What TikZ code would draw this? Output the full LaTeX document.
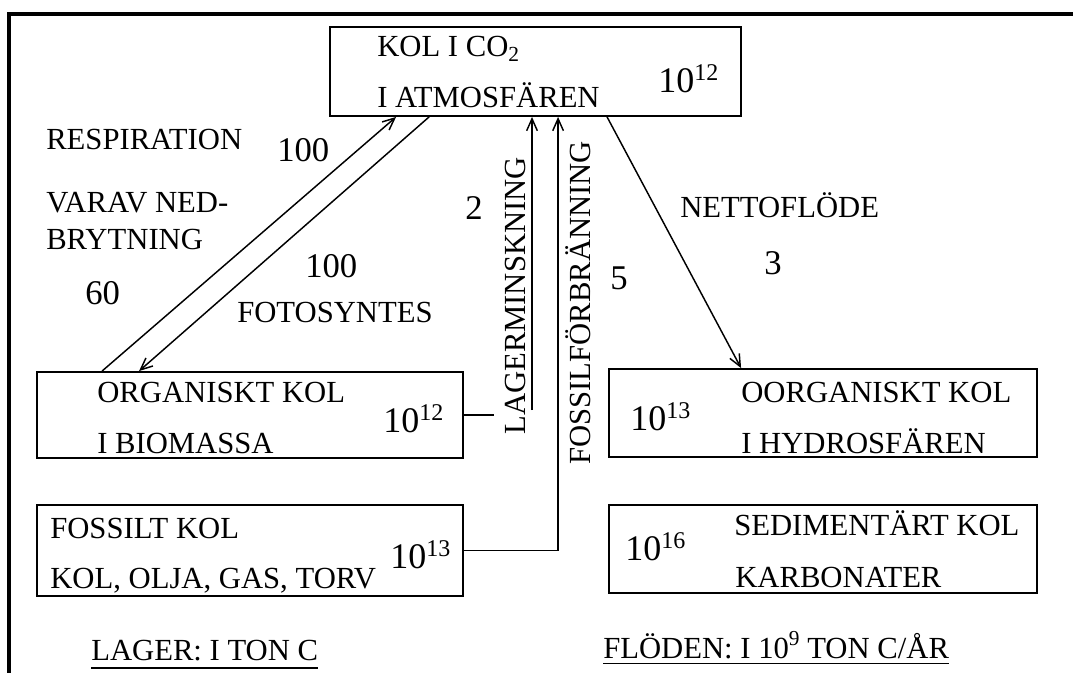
\documentclass[tikz,border=0pt]{standalone}
\usepackage{fontspec}
\setmainfont{Liberation Serif}
\usetikzlibrary{arrows.meta,calc,fit}
\newcommand\pten[1]{{\fontsize{27}{30}\selectfont 10}\raisebox{9pt}{\fontsize{18}{18}\selectfont #1}}

\begin{document}
\begin{tikzpicture}[x=0.75pt, y=-0.75pt, >={Straight Barb[length=9pt,width=8pt]},
    every node/.style={font=\fontsize{23}{27}\selectfont, inner sep=0pt},
    num/.style={font=\fontsize{26}{30}\selectfont},
    box/.style={draw, line width=1.4pt, inner sep=0pt},
    flow/.style={->, line width=1.1pt}]
  \useasboundingbox (0,0) rectangle (1073,673);
  \draw[line width=3pt] (9,673) -- (9,14) -- (1073,14);
  % stores
  \foreach \n/\xa/\ya/\xb/\yb in {atm/330/27/741/116, org/37/372/463/458, fos/37/505/463/596,
      hyd/609/369/1037/457, sed/609/505/1037/593} {
    \node[box, fit={(\xa,\ya) (\xb,\yb)}] (\n) {};
  }
  \node[anchor=base west] (atmA) at (377,57) {KOL I CO\textsubscript{2}};
  \node[anchor=base west] (atmB) at (377,108) {I ATMOSFÄREN};
  \node[anchor=base west] (atmN) at (658,93) {\pten{12}};
  \node[anchor=base west] (orgA) at (97,402) {ORGANISKT KOL};
  \node[anchor=base west] (orgB) at (97,453) {I BIOMASSA};
  \node[anchor=base west] (orgN) at (383,432) {\pten{12}};
  \node[anchor=base west] (fosA) at (50,538) {FOSSILT KOL};
  \node[anchor=base west] (fosB) at (50,588) {KOL, OLJA, GAS, TORV};
  \node[anchor=base west] (fosN) at (390,568) {\pten{13}};
  \node[anchor=base west] (hydN) at (630,430) {\pten{13}};
  \node[anchor=base west] (hydA) at (741,402) {OORGANISKT KOL};
  \node[anchor=base west] (hydB) at (741,453) {I HYDROSFÄREN};
  \node[anchor=base west] (sedN) at (625,560) {\pten{16}};
  \node[anchor=base west] (sedA) at (734,535) {SEDIMENTÄRT KOL};
  \node[anchor=base west] (sedB) at (735,587) {KARBONATER};
  % flows
  \draw[flow] ($(org.north west)+(66,0)$) -- ($(atm.south west)+(67,0)$);
  \draw[flow] ($(atm.south west)+(100,0)$) -- ($(org.north west)+(103,0)$);
  \draw[line width=1.1pt] (org.east) -- ++(30,0);
  \coordinate (lagfoot) at (532,410);
  \draw[flow] (lagfoot) -- (lagfoot |- atm.south);
  \draw[flow] (fos.east) -| ($(atm.south west)+(229,0)$);
  \draw[flow] ($(atm.south west)+(278,0)$) -- ($(hyd.north west)+(133,0)$);
  % flow labels
  \node[anchor=base west] (resp) at (46,150) {RESPIRATION};
  \node[anchor=base west, num] (respN) at (277,162) {100};
  \node[anchor=base west] (varav) at (46,213) {VARAV NED-};
  \node[anchor=base west] (bryt) at (46,250) {BRYTNING};
  \node[anchor=base west, num] (brytN) at (85,305) {60};
  \node[anchor=base west, num] (fotN) at (305,277) {100};
  \node[anchor=base west] (foto) at (237,322) {FOTOSYNTES};
  \node[anchor=base west, num] (lagN) at (465,220) {2};
  \node[anchor=base west, rotate=90] (lagL) at (525,435) {LAGERMINSKNING};
  \node[anchor=base west, rotate=90] (fosL) at (590,465) {FOSSILFÖRBRÄNNING};
  \node[anchor=base west, num] (fosF) at (610,290) {5};
  \node[anchor=base west] (netL) at (680,218) {NETTOFLÖDE};
  \node[anchor=base west, num] (netN) at (764,275) {3};
  % units
  \node[anchor=base west] (lagr) at (91,660) {LAGER: I TON C};
  \node[anchor=base west] (flod) at (603,658) {FLÖDEN: I 10\raisebox{0.42em}{\fontsize{16}{16}\selectfont 9} TON C/ÅR};
  \draw[line width=1.1pt] ([yshift=-6pt]lagr.base west) -- ([yshift=-6pt]lagr.base east);
  \draw[line width=1.1pt] ([yshift=-4pt]flod.base west) -- ([yshift=-4pt]flod.base east);
\end{tikzpicture}
\end{document}
